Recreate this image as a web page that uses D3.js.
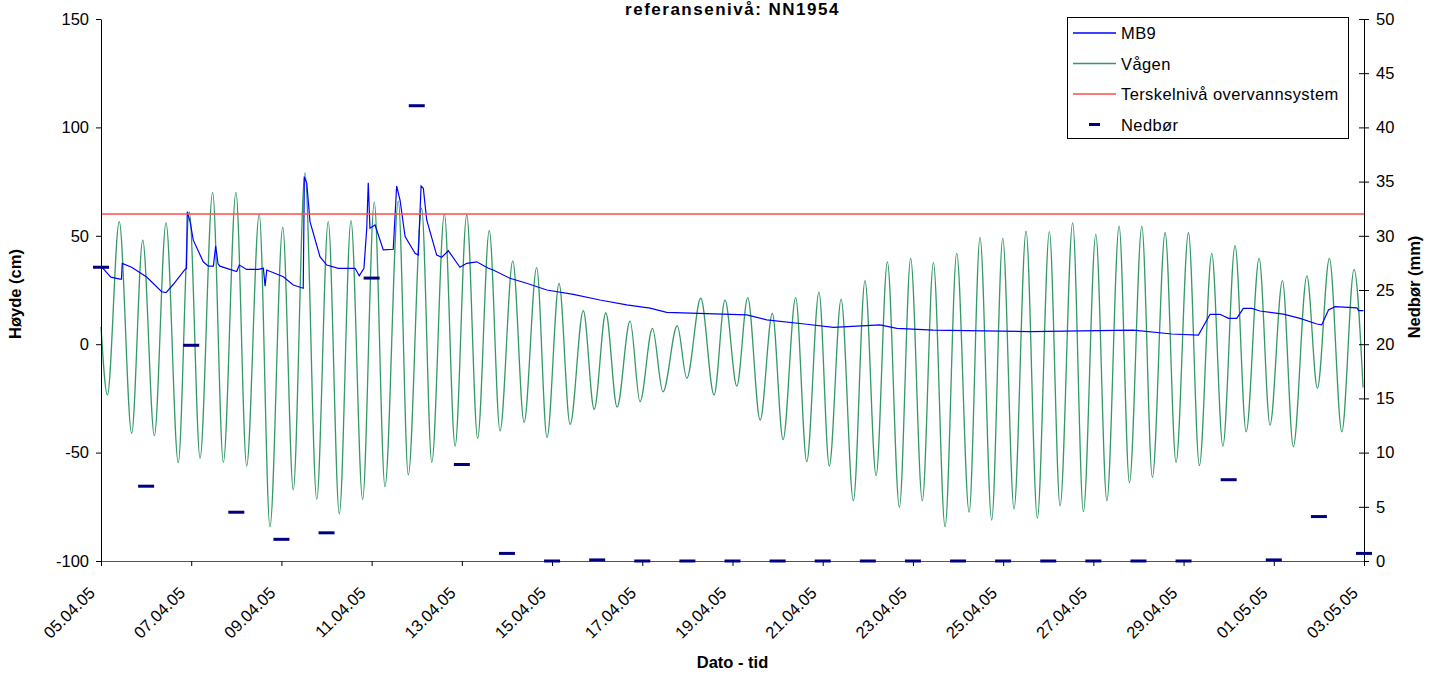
<!DOCTYPE html>
<html>
<head>
<meta charset="utf-8">
<script src="https://cdn.jsdelivr.net/npm/d3@7"></script>
<style>
  body { margin: 0; background: #fff; }
  svg { display: block; }
  text { font-family: Arial, "Liberation Sans", sans-serif; }
</style>
</head>
<body>
<svg id="chart" width="1441" height="675"></svg>
<script>
// Vågen tide gauge: turning points (hours after 05.04.05 00:00, level in cm NN1954)
const tideHours = [
  0, 3.4, 9.7, 16.3, 22.2, 28.4, 34.6, 41.1, 47.0, 52.7, 59.4, 65.1, 71.8, 77.5, 84.2, 89.9,
  96.7, 102.3, 108.5, 114.8, 120.9, 126.8, 133.0, 139.2, 145.4, 151.1, 158.2, 163.5, 170.6, 176.0,
  182.7, 188.4, 194.6, 200.4, 206.6, 212.3, 219.1, 225.1, 231.8, 237.3, 243.7, 249.6, 256.6, 262.4,
  268.6, 274.6, 281.5, 286.8, 293.4, 299.0, 306.6, 311.7, 319.1, 326.2, 332.0, 338.3, 344.1, 350.7,
  357.2, 362.9, 369.6, 375.5, 382.0, 387.5, 393.8, 400.3, 406.5, 412.4, 418.4, 424.8, 430.8, 437.0,
  442.9, 449.1, 455.3, 461.9, 467.7, 473.9, 479.8, 485.8, 492.2, 498.2, 504.6, 510.3, 517.0, 522.7,
  529.3, 535.2, 541.7, 547.2, 553.8, 559.4, 566.2, 572.0, 578.6, 584.4, 591.0, 596.9, 603.4, 609.3,
  616.2, 622.0, 628.6, 634.4, 641.6, 647.2, 653.6, 660.2, 666.7, 671.5
];
const tideLevels = [
  8, -23.4, 56.5, -41.1, 48, -42.2, 56, -54.6, 61, -52.6, 70, -54.5, 70, -56.2, 60, -84.2,
  54, -67.3, 79, -71.6, 56.5, -78.3, 57, -71.6, 65.5, -65.7, 66, -60.3, 62.7, -54.5,
  60, -47, 59.6, -43.4, 52.5, -40, 38.4, -36, 35.3, -43, 28, -37, 15.5, -30,
  14.5, -29, 10.8, -26.5, 7.3, -22, 8.5, -15.7, 21.2, -23.4, 20.4, -19.3, 21.5, -35,
  14.2, -44, 21.5, -54.2, 24, -56.2, 20.8, -72.2, 29.3, -60.6, 38, -75.2, 39.6, -72.3,
  37.6, -84.2, 41.9, -77.5, 49.3, -81.1, 48.8, -76, 52.2, -80.3, 51.9, -74.6, 56, -77.2,
  50.7, -72.2, 54.5, -63.9, 54.5, -61.4, 51.4, -54.5, 51.4, -56, 41.9, -47, 45.4, -40.4,
  39.6, -37.3, 29.3, -47.3, 31.5, -20.3, 39.6, -40.4, 34.5, -20
];

// MB9 manhole level (hours after 05.04.05 00:00, cm NN1954)
const mb9Hours = [
  0, 5.2, 10.1, 10.9, 11.3, 16.3, 24.3, 32.3, 34.6, 38.2, 44.7, 45.5, 45.9, 47.4, 49.1, 54.4,
  57.1, 59.8, 61.0, 62.3, 63.3, 66.9, 72.2, 73.6, 77.5, 83.7, 86.4, 87.3, 88.2, 97.0, 102.3,
  107.6, 108.2, 109.5, 111.2, 116.5, 120.1, 126.3, 135.2, 137.4, 139.9, 141.4, 142.2, 143.1,
  145.8, 150.2, 155.5, 157.3, 159.1, 161.8, 167.1, 168.8, 170.3, 171.5, 173.3, 178.6, 181.3,
  184.8, 191.0, 194.6, 199.9, 206.1, 208.7, 217.6, 226.5, 237.2, 251.3, 265.5, 279.7, 292.1,
  301.0, 343.6, 354.2, 375.5, 389.7, 414.5, 423.4, 442.9, 494.3, 549.3, 569.7, 583.9, 590.1,
  595.4, 599.9, 604.3, 607.8, 612.3, 616.7, 629.1, 638.0, 646.9, 649.5, 653.1, 656.6, 668.2,
  669.1, 671.7
];
const mb9Levels = [
  36, 30.9, 30, 30, 37.3, 35.5, 31, 24.2, 23.8, 27.3, 34.5, 35, 61.1, 56.5, 48, 38,
  36, 36, 45.3, 37, 36, 35, 33.5, 36.5, 34.5, 34.5, 35, 26.8, 34.2, 31.1, 27.3,
  25.8, 77.3, 74.2, 56.5, 40.4, 36.5, 35, 35, 31.5, 35, 53.5, 74.5, 53.5,
  55, 43.5, 43.8, 73, 66.5, 49.6, 41.9, 41.1, 73, 71.9, 57.3, 41.1, 40.1,
  43.1, 35.5, 37.3, 38, 35, 34.2, 30.4, 28.1, 25, 23, 20.4, 18.1, 16.6,
  14.7, 13.5, 11.2, 9.2, 7.8, 8.9, 7.3, 6.5, 5.8, 6.5, 4.7, 4.2, 13.8,
  13.8, 11.9, 11.9, 16.5, 16.5, 15.3, 13.9, 11.9, 9.3, 8.9, 15.8, 17.3, 16.8,
  15.5, 15.5
];

// Threshold level of the storm water system (cm)
const thresholdLevel = 60;

// Daily precipitation (day number after 05.04.05, mm)
const rainDays = [0, 1, 2, 3, 4, 5, 6, 7, 8, 9, 10, 11, 12, 13, 14, 15, 16, 17, 18, 19, 20, 21, 22, 23, 24, 25, 26, 27, 28];
const rainMm   = [27.1, 6.9, 19.9, 4.5, 2.0, 2.6, 26.1, 42.0, 8.9, 0.7, 0, 0.1, 0, 0, 0, 0, 0, 0, 0, 0, 0, 0, 0, 0, 0, 7.5, 0.1, 4.1, 0.7];

// Axis ticks
const dateTickHours = [0, 48, 96, 144, 192, 240, 288, 336, 384, 432, 480, 528, 576, 624, 672];
const dateLabels = ["05.04.05", "07.04.05", "09.04.05", "11.04.05", "13.04.05", "15.04.05", "17.04.05",
  "19.04.05", "21.04.05", "23.04.05", "25.04.05", "27.04.05", "29.04.05", "01.05.05", "03.05.05"];
const levelTicks = [-100, -50, 0, 50, 100, 150];
const rainTicks = [0, 5, 10, 15, 20, 25, 30, 35, 40, 45, 50];

const legendItems = ["MB9", "Vågen", "Terskelnivå overvannsystem", "Nedbør"];

const svg = d3.select("#chart");
const plotLeft = 101, plotRight = 1364, plotTop = 19, plotBottom = 561;

const x = d3.scaleLinear().domain([0, 672]).range([plotLeft, plotRight]);
const y = d3.scaleLinear().domain([-100, 150]).range([plotBottom, plotTop]);
const yR = d3.scaleLinear().domain([0, 50]).range([plotBottom, plotTop]);

const FONT = 16.5;
const plain = d => String(d); // hyphen-minus, as in the spreadsheet output

// Title (second line of the heading)
svg.append("text")
  .attr("x", (plotLeft + plotRight) / 2).attr("y", 15)
  .attr("text-anchor", "middle")
  .attr("font-weight", "bold").attr("font-size", 17)
  .attr("letter-spacing", 1.5)
  .text("referansenivå: NN1954");

// Series
const tide = tideHours.map((h, i) => [h, tideLevels[i]]);
const mb9 = mb9Hours.map((h, i) => [h, mb9Levels[i]]);

svg.append("path")
  .datum(tide)
  .attr("fill", "none")
  .attr("stroke", "#339966")
  .attr("stroke-width", 1.3)
  .attr("d", d3.line().x(d => x(d[0])).y(d => y(d[1])).curve(d3.curveMonotoneX));

svg.append("path")
  .datum(mb9)
  .attr("fill", "none")
  .attr("stroke", "#0000ff")
  .attr("stroke-width", 1.2)
  .attr("d", d3.line().x(d => x(d[0])).y(d => y(d[1])));

svg.append("line")
  .attr("x1", x(0)).attr("x2", x(672))
  .attr("y1", y(thresholdLevel)).attr("y2", y(thresholdLevel))
  .attr("stroke", "#ff4d4d").attr("stroke-width", 1.5);

// Axes
const axisStyle = g => {
  g.selectAll("path.domain").attr("stroke", "#000");
  g.selectAll(".tick line").attr("stroke", "#000");
  g.selectAll(".tick text").attr("font-size", FONT).attr("fill", "#000")
    .attr("font-family", 'Arial, "Liberation Sans", sans-serif');
};

svg.append("g")
  .attr("transform", `translate(${plotLeft},0)`)
  .call(d3.axisLeft(y).tickValues(levelTicks).tickFormat(plain)
    .tickSize(5).tickSizeOuter(0).tickPadding(7))
  .call(axisStyle);

const gr = svg.append("g")
  .attr("transform", `translate(${plotRight},0)`)
  .call(d3.axisRight(yR).tickValues(rainTicks).tickFormat(plain)
    .tickSize(5).tickSizeOuter(0).tickPadding(7))
  .call(axisStyle);
gr.selectAll(".tick line").attr("x1", -5).attr("x2", 5);

const gx = svg.append("g")
  .attr("transform", `translate(0,${plotBottom})`)
  .call(d3.axisBottom(x).tickValues(dateTickHours).tickSize(5).tickSizeOuter(0).tickFormat(""))
  .call(axisStyle);
gx.select("path.domain").attr("stroke", "#555");

svg.append("g").selectAll("text")
  .data(dateTickHours)
  .join("text")
  .attr("transform", d => `translate(${x(d) - 5},594) rotate(-45)`)
  .attr("text-anchor", "end")
  .attr("font-size", FONT)
  .text((d, i) => dateLabels[i]);

// Precipitation markers
svg.append("g").selectAll("line")
  .data(rainDays)
  .join("line")
  .attr("x1", d => x(d * 24) - 8).attr("x2", d => x(d * 24) + 8)
  .attr("y1", (d, i) => yR(rainMm[i])).attr("y2", (d, i) => yR(rainMm[i]))
  .attr("stroke", "#000080").attr("stroke-width", 3);

// Axis titles
svg.append("text")
  .attr("transform", "translate(21,294) rotate(-90)")
  .attr("text-anchor", "middle").attr("font-weight", "bold").attr("font-size", FONT)
  .text("Høyde (cm)");
svg.append("text")
  .attr("transform", "translate(1420,287) rotate(-90)")
  .attr("text-anchor", "middle").attr("font-weight", "bold").attr("font-size", FONT)
  .text("Nedbør (mm)");
svg.append("text")
  .attr("x", (plotLeft + plotRight) / 2).attr("y", 668)
  .attr("text-anchor", "middle").attr("font-weight", "bold").attr("font-size", FONT)
  .text("Dato - tid");

// Legend
const lg = svg.append("g");
lg.append("rect")
  .attr("x", 1067.5).attr("y", 17.5).attr("width", 281).attr("height", 121)
  .attr("fill", "#fff").attr("stroke", "#000").attr("stroke-width", 1);
const legendColors = ["#0000ff", "#339966", "#ff4d4d", "#000080"];
legendItems.forEach((name, i) => {
  const cy = 33 + i * 30.5;
  if (i < 3) {
    lg.append("line").attr("x1", 1073).attr("x2", 1116).attr("y1", cy).attr("y2", cy)
      .attr("stroke", legendColors[i]).attr("stroke-width", 1.3);
  } else {
    lg.append("line").attr("x1", 1089).attr("x2", 1100).attr("y1", cy).attr("y2", cy)
      .attr("stroke", legendColors[i]).attr("stroke-width", 3);
  }
  lg.append("text").attr("x", 1121).attr("y", cy + 6)
    .attr("font-size", FONT).attr("letter-spacing", 0.4).text(name);
});
</script>
</body>
</html>
